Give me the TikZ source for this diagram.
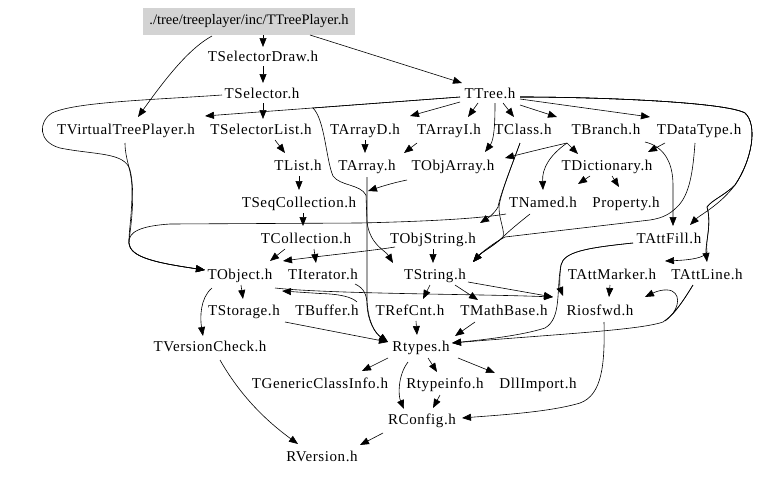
\documentclass[tikz,border=0pt]{standalone}
\usepackage{fontspec}
\setmainfont{Liberation Serif}[LetterSpace=4]
\newfontfamily\rootfont{Liberation Serif}[LetterSpace=0]
\usetikzlibrary{arrows.meta,calc}
\tikzset{
  lbl/.style={inner sep=0pt, anchor=center, text height=10pt, text depth=3pt, font=\fontsize{15}{17}\selectfont},
  rootlbl/.style={inner sep=0pt, anchor=center, text height=10pt, text depth=3pt, font=\rootfont\fontsize{14.5}{17}\selectfont},
  dep/.style={draw, line width=0.6pt, -{Triangle[length=9pt,width=7pt]}},
}
\begin{document}
\begin{tikzpicture}[x=1pt,y=-1pt]
\useasboundingbox (0,0) rectangle (779,477);
\fill[fill={rgb,255:red,211;green,211;blue,211}] (143,8) rectangle (355,35);
\node[rootlbl] (root) at (249,21) {./tree/treeplayer/inc/TTreePlayer.h};
\node[lbl] (sdraw) at (263,58) {TSelectorDraw.h};
\node[lbl] (sel) at (262,95) {TSelector.h};
\node[lbl] (tree) at (490,95) {TTree.h};
\node[lbl] (vtp) at (126,131) {TVirtualTreePlayer.h};
\node[lbl] (slist) at (261,131) {TSelectorList.h};
\node[lbl] (arrd) at (365,131) {TArrayD.h};
\node[lbl] (arri) at (449,131) {TArrayI.h};
\node[lbl] (tclass) at (523,131) {TClass.h};
\node[lbl] (branch) at (606,131) {TBranch.h};
\node[lbl] (dtype) at (699,131) {TDataType.h};
\node[lbl] (tlist) at (298,167) {TList.h};
\node[lbl] (tarray) at (367,167) {TArray.h};
\node[lbl] (objarr) at (453,167) {TObjArray.h};
\node[lbl] (dict) at (607,167) {TDictionary.h};
\node[lbl] (seqc) at (299,204) {TSeqCollection.h};
\node[lbl] (named) at (543,204) {TNamed.h};
\node[lbl] (prop) at (626,204) {Property.h};
\node[lbl] (coll) at (306,240) {TCollection.h};
\node[lbl] (objstr) at (433,240) {TObjString.h};
\node[lbl] (attfill) at (669,240) {TAttFill.h};
\node[lbl] (tobj) at (240,276) {TObject.h};
\node[lbl] (iter) at (323,276) {TIterator.h};
\node[lbl] (tstring) at (435,276) {TString.h};
\node[lbl] (attmark) at (612,276) {TAttMarker.h};
\node[lbl] (attline) at (707,276) {TAttLine.h};
\node[lbl] (storage) at (244,312) {TStorage.h};
\node[lbl] (buffer) at (327,312) {TBuffer.h};
\node[lbl] (refcnt) at (410,312) {TRefCnt.h};
\node[lbl] (mathb) at (504,312) {TMathBase.h};
\node[lbl] (riosfwd) at (600,312) {Riosfwd.h};
\node[lbl] (vcheck) at (210,348) {TVersionCheck.h};
\node[lbl] (rtypes) at (421,348) {Rtypes.h};
\node[lbl] (gci) at (320,385) {TGenericClassInfo.h};
\node[lbl] (rtinfo) at (445,385) {Rtypeinfo.h};
\node[lbl] (dll) at (538,385) {DllImport.h};
\node[lbl] (rconfig) at (422,421) {RConfig.h};
\node[lbl] (rversion) at (322,458) {RVersion.h};
% edges
\draw[dep] ($(root)+(14,14)$) -- ($(sdraw)+(0,-11)$);
\draw[dep] ($(root)+(-37,15)$) .. controls (190,48) and (168,75) .. ($(vtp)+(12,-14)$);
\draw[dep] ($(root)+(61,14)$) -- ($(tree)+(-28,-12)$);
\draw[dep] ($(sdraw)+(0,8)$) -- ($(sel)+(1,-12)$);
\draw[dep] ($(sel)+(1,8)$) -- ($(slist)+(2,-12)$);
\draw[dep] ($(sel)+(-40,0)$) .. controls (150,100) and (75,102) .. (52,113) .. controls (38,122) and (38,142) .. (60,148) .. controls (95,155) and (125,152) .. (130,170) .. controls (135,190) and (132,220) .. (129,240) .. controls (127,256) and (150,262) .. ($(tobj)+(-35,-6)$);
\draw[dep] ($(vtp)+(-1,12)$) .. controls (125,160) and (132,170) .. (132,190) .. controls (132,215) and (129,230) .. (129,240) .. controls (127,256) and (150,262) .. ($(tobj)+(-35,-6)$);
\draw[dep] ($(named)+(-37,10)$) .. controls (470,220) and (400,222) .. (360,223) -- (170,224) .. controls (140,226) and (128,232) .. (129,243) .. controls (130,256) and (150,262) .. ($(tobj)+(-35,-6)$);
\draw[dep] ($(tree)+(-30,2)$) -- ($(vtp)+(79,-15)$);
\draw[dep] ($(tree)+(-30,2)$) -- (313,108) .. controls (325,120) and (326,160) .. (333,176) .. controls (340,186) and (360,184) .. (366,195) -- (367,222) .. controls (370,245) and (385,250) .. ($(tstring)+(-42,-13)$);
\draw[dep] ($(tarray)+(0,10)$) -- (367,300) .. controls (368,322) and (375,333) .. ($(rtypes)+(-33,-6)$);
\draw[dep] ($(iter)+(32,8)$) .. controls (364,288) and (367,295) .. (367,305) .. controls (368,322) and (375,333) .. ($(rtypes)+(-33,-6)$);
\draw[dep] ($(objstr)+(-38,7)$) .. controls (370,251) and (320,256) .. ($(tobj)+(43,-15)$);
\draw[dep] ($(objstr)+(0,9)$) -- ($(tstring)+(-2,-13)$);
\draw[dep] ($(coll)+(-21,9)$) -- ($(tobj)+(30,-15)$);
\draw[dep] ($(coll)+(8,9)$) -- ($(iter)+(-7,-13)$);
\draw[dep] ($(tobj)+(1,9)$) -- ($(storage)+(-1,-13)$);
\draw[dep] ($(tobj)+(-28,12)$) .. controls (200,298) and (200,318) .. ($(vcheck)+(-7,-12)$);
\draw[dep] ($(tobj)+(35,12)$) .. controls (330,294) and (480,294) .. ($(riosfwd)+(-47,-15)$);
\draw[dep] ($(buffer)+(30,-10)$) .. controls (352,297) and (340,294) .. (320,293.5) -- ($(tobj)+(42,15)$);
\draw[dep] ($(tstring)+(-5,9)$) -- ($(refcnt)+(13,-13)$);
\draw[dep] ($(tstring)+(20,9)$) -- ($(mathb)+(-26,-12)$);
\draw[dep] ($(tstring)+(33,6)$) -- ($(riosfwd)+(-47,-15)$);
\draw[dep] ($(storage)+(41,10)$) -- ($(rtypes)+(-33,-6)$);
\draw[dep] ($(refcnt)+(6,9)$) -- ($(rtypes)+(-4,-13)$);
\draw[dep] ($(mathb)+(-29,10)$) -- ($(rtypes)+(34,-12)$);
\draw[dep] ($(attfill)+(-36,3)$) .. controls (585,248) and (564,252) .. (561,265) .. controls (559,280) and (560,288) .. ($(riosfwd)+(-37,-16)$);
\draw[dep] ($(attfill)+(-36,3)$) .. controls (585,248) and (564,252) .. (561,265) .. controls (556,290) and (562,318) .. (545,328) .. controls (520,336) and (480,340) .. ($(rtypes)+(31,-5)$);
\draw[dep] ($(attline)+(-14,9)$) .. controls (685,298) and (675,314) .. (663,322) .. controls (640,330) and (560,334) .. ($(rtypes)+(31,-5)$);
\draw[dep] ($(attline)+(-14,9)$) .. controls (685,298) and (675,314) .. (665,321) .. controls (678,312) and (682,296) .. (672,291) .. controls (665,288) and (655,292) .. ($(riosfwd)+(45,-15)$);
\draw[dep] ($(attmark)+(-2,9)$) -- ($(riosfwd)+(9,-15)$);
\draw[dep] ($(tree)+(30,2)$) .. controls (600,97) and (725,102) .. (745,113) .. controls (758,125) and (752,160) .. (735,185) .. controls (720,205) and (700,215) .. ($(attfill)+(21,-15)$);
\draw[dep] ($(tree)+(30,2)$) .. controls (600,97) and (725,102) .. (745,113) .. controls (758,125) and (752,160) .. (735,185) .. controls (725,195) and (712,200) .. (707,207) .. controls (712,225) and (705,245) .. ($(attline)+(0,-14)$);
\draw[dep] ($(tree)+(30,2)$) .. controls (600,97) and (725,102) .. (745,113) .. controls (758,125) and (752,160) .. (735,185) .. controls (725,195) and (712,200) .. (707,207) .. controls (712,225) and (705,240) .. (707,252) .. controls (705,258) and (690,260) .. ($(attmark)+(53,-15)$);
\draw[dep] ($(tree)+(-30,7)$) -- ($(arrd)+(45,-15)$);
\draw[dep] ($(tree)+(-12,8)$) -- ($(arri)+(19,-14)$);
\draw[dep] ($(tree)+(13,8)$) -- ($(tclass)+(-9,-14)$);
\draw[dep] ($(tree)+(30,10)$) -- ($(branch)+(-49,-14)$);
\draw[dep] ($(tree)+(30,4)$) -- ($(dtype)+(-49,-14)$);
\draw[dep] ($(tree)+(5,8)$) .. controls (495,125) and (494,140) .. ($(objarr)+(32,-15)$);
\draw[dep] ($(branch)+(-39,12)$) .. controls (545,148) and (525,153) .. ($(objarr)+(52,-9)$);
\draw[dep] ($(branch)+(-39,12)$) -- ($(dict)+(-29,-13)$);
\draw[dep] ($(branch)+(-39,12)$) .. controls (550,155) and (542,168) .. ($(named)+(0,-14)$);
\draw[dep] ($(dtype)+(-34,12)$) -- ($(dict)+(41,-15)$);
\draw[dep] ($(branch)+(39,11)$) .. controls (662,146) and (673,160) .. (673,185) -- ($(attfill)+(4,-14)$);
\draw[dep] ($(dtype)+(-4,12)$) .. controls (693,170) and (690,195) .. (677,207) .. controls (670,214) and (663,218) .. (650,220) -- (505,237) .. controls (495,242) and (482,252) .. ($(tstring)+(38,-14)$);
\draw[dep] ($(named)+(-13,10)$) .. controls (520,222) and (510,230) .. (503,237) .. controls (495,245) and (482,252) .. ($(tstring)+(38,-14)$);
\draw[dep] ($(tclass)+(-3,12)$) .. controls (512,165) and (500,195) .. (499,207) .. controls (499,220) and (505,230) .. (503,237) .. controls (495,245) and (482,252) .. ($(tstring)+(38,-14)$);
\draw[dep] ($(tclass)+(-3,12)$) .. controls (512,165) and (500,195) .. (498,207) .. controls (494,214) and (488,218) .. ($(objstr)+(47,-17)$);
\draw[dep] ($(dict)+(-17,9)$) -- ($(named)+(35,-20)$);
\draw[dep] ($(dict)+(5,9)$) -- ($(prop)+(-7,-17)$);
\draw[dep] ($(slist)+(14,9)$) -- ($(tlist)+(-13,-14)$);
\draw[dep] ($(arrd)+(0,9)$) -- ($(tarray)+(-2,-14)$);
\draw[dep] ($(arri)+(-32,12)$) -- ($(tarray)+(37,-14)$);
\draw[dep] ($(tlist)+(1,9)$) -- ($(seqc)+(0,-14)$);
\draw[dep] ($(seqc)+(4,9)$) -- ($(coll)+(-3,-14)$);
\draw[dep] ($(objarr)+(-46,13)$) .. controls (392,183) and (380,187) .. ($(seqc)+(69,-13)$);
\draw[dep] ($(rtypes)+(-33,10)$) -- ($(gci)+(42,-14)$);
\draw[dep] ($(rtypes)+(-13,14)$) .. controls (398,375) and (398,395) .. ($(rconfig)+(-18,-12)$);
\draw[dep] ($(rtypes)+(7,10)$) -- ($(rtinfo)+(-8,-13)$);
\draw[dep] ($(rtypes)+(37,10)$) -- ($(dll)+(-43,-12)$);
\draw[dep] ($(rtinfo)+(-5,10)$) -- ($(rconfig)+(11,-13)$);
\draw[dep] ($(riosfwd)+(4,10)$) .. controls (605,365) and (602,395) .. (580,403) .. controls (550,412) and (500,415) .. ($(rconfig)+(40,-3)$);
\draw[dep] ($(rconfig)+(-39,12)$) -- ($(rversion)+(38,-13)$);
\draw[dep] ($(vcheck)+(10,12)$) .. controls (240,395) and (265,420) .. ($(rversion)+(-24,-14)$);
\end{tikzpicture}
\end{document}
